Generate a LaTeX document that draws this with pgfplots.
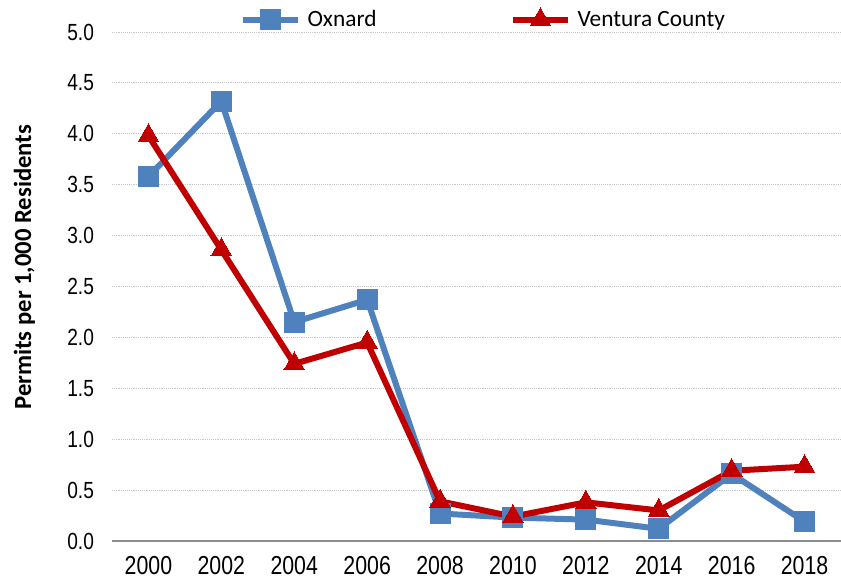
\documentclass[border=0pt]{standalone}
\usepackage{fontspec}
\setmainfont{Liberation Sans}[FakeStretch=0.82]
\newfontfamily\calibri{Carlito}
\usepackage{pgfplots}
\pgfplotsset{compat=1.18}
\definecolor{oxblue}{HTML}{4F81BD}
\definecolor{vcred}{HTML}{C00000}
\begin{document}
\begin{tikzpicture}
\begin{axis}[
  at={(0,0)}, anchor=south west,
  scale only axis,
  width=546.75pt, height=381.75pt,
  xmin=-0.5, xmax=9.5, ymin=0, ymax=5,
  xtick={0,...,9},
  xticklabels={2000,2002,2004,2006,2008,2010,2012,2014,2016,2018},
  ytick={0,0.5,...,5.0},
  /pgf/number format/assume math mode=true,
  xticklabel style={font=\fontsize{19.5}{22}\selectfont, yshift=-8pt},
  yticklabel style={font=\fontsize{17.5}{20}\selectfont, xshift=-10pt, /pgf/number format/.cd, fixed, fixed zerofill, precision=1},
  major tick length=0pt,
  axis lines*=left,
  x axis line style={draw=gray!90, line width=1.5pt, -},
  y axis line style={draw=none},
  ymajorgrids,
  grid style={densely dotted, gray!45, line width=0.6pt},
  ylabel={Permits per 1,000 Residents},
  ylabel style={at={(axis description cs:-0.12,0.538)}, anchor=center, font=\calibri\bfseries\fontsize{18.5}{21}\selectfont},
  legend columns=2,
  legend style={at={(axis description cs:0.51,1.024)}, anchor=center, draw=none, fill=none,
    font=\calibri\fontsize{17.5}{20}\selectfont, inner xsep=0pt,
    /tikz/every odd column/.append style={column sep=3pt},
    /tikz/every even column/.append style={column sep=98pt}},
  legend image code/.code={
    \draw[#1, mark=none] (0cm,0cm) -- (1.45cm,0cm);
    \draw[#1, only marks] plot coordinates {(0.725cm,0cm)};
  },
  clip=false,
]
\addplot[color=oxblue, line width=4.5pt, mark=square*, mark size=7.5pt, mark options={solid, fill=oxblue, line width=0pt}]
  coordinates {(0,3.58) (1,4.32) (2,2.15) (3,2.37) (4,0.27) (5,0.23) (6,0.21) (7,0.12) (8,0.66) (9,0.19)};
\addlegendentry{Oxnard}
\addplot[color=vcred, line width=4.5pt, mark=triangle*, mark size=9pt, mark options={solid, fill=vcred, line width=0pt}]
  coordinates {(0,3.98) (1,2.86) (2,1.74) (3,1.95) (4,0.39) (5,0.24) (6,0.38) (7,0.30) (8,0.69) (9,0.73)};
\addlegendentry{Ventura County}
\end{axis}
\pgfresetboundingbox
\path (-84pt,-33pt) rectangle (546.75pt,405.75pt);
\end{tikzpicture}
\end{document}
